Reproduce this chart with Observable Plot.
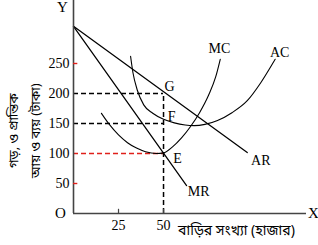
<!DOCTYPE html>
<html>
<head>
<meta charset="utf-8">
<script src="https://cdn.jsdelivr.net/npm/d3@7"></script>
<script src="https://cdn.jsdelivr.net/npm/@observablehq/plot@0.6"></script>
<style>
  html, body { margin: 0; padding: 0; background: #fff; }
  svg { display: block; }
</style>
</head>
<body>
<div id="chart"></div>
<script>
// Quantity of houses (thousand) and price/cost (Taka)
const arLine = [ {x: 0, y: 312}, {x: 96.5, y: 101.5} ];
const mrLine = [ {x: 0, y: 312}, {x: 62.8, y: 46.5} ];
const mcCurve = [
  {x: 15.5, y: 167}, {x: 20, y: 148}, {x: 25, y: 131}, {x: 30, y: 118},
  {x: 35, y: 109}, {x: 40, y: 103}, {x: 46, y: 100}, {x: 50, y: 101},
  {x: 55, y: 111}, {x: 60, y: 126}, {x: 65, y: 145}, {x: 70, y: 168},
  {x: 75, y: 197}, {x: 79, y: 228}, {x: 81.5, y: 257}
];
const acCurve = [
  {x: 31.7, y: 262}, {x: 33, y: 235}, {x: 35.5, y: 205}, {x: 39, y: 181},
  {x: 44, y: 167}, {x: 50, y: 157}, {x: 56, y: 151}, {x: 62, y: 147.5},
  {x: 67, y: 146.5}, {x: 73, y: 148.5}, {x: 80, y: 155}, {x: 88, y: 168},
  {x: 96.5, y: 188}, {x: 104, y: 218}, {x: 112, y: 257}
];
const xTicks = [25, 50];
const yTicks = [250, 200, 150, 100, 50];
const redTicks = [250, 50];
const guideBlack = [200, 150];
const guideRed = [100];
const qStar = 50;
const qStarTop = 200;
const pointG = {x: 50, y: 200, label: "G"};
const pointF = {x: 50, y: 150, label: "F"};
const pointE = {x: 50, y: 100, label: "E"};
const curveLabels = [
  {x: 81, y: 275, label: "MC"},
  {x: 114.5, y: 268, label: "AC"},
  {x: 104, y: 88, label: "AR"},
  {x: 69.5, y: 37, label: "MR"}
];
const yTitle = ["গড়, ও প্রান্তিক", "আয় ও ব্যয় (টাকা)"];
const xTitle = "বাড়ির সংখ্যা (হাজার)";
const xMax = 129.4, yMax = 355;

const serif = "Liberation Serif, Times New Roman, serif";
const bn = "Noto Sans Bengali, Noto Serif Bengali, Lohit Bengali, serif";
const T = {fill: "#000", fontFamily: serif};

const chart = Plot.plot({
  width: 318, height: 245,
  marginTop: 0, marginRight: 12, marginBottom: 32, marginLeft: 73,
  x: {domain: [0, xMax], axis: null},
  y: {domain: [0, yMax], axis: null},
  style: {background: "#fff"},
  marks: [
    // guides
    Plot.ruleY(guideBlack, {x1: 0, x2: qStar, y: d => d, stroke: "#000", strokeWidth: 1.3, strokeDasharray: "5,3"}),
    Plot.ruleY(guideRed, {x1: 0, x2: qStar, y: d => d, stroke: "#e0201b", strokeWidth: 1.3, strokeDasharray: "5,3"}),
    Plot.ruleX([qStar], {y1: 0, y2: qStarTop, stroke: "#000", strokeWidth: 1.5, strokeDasharray: "5,3"}),
    // curves
    Plot.line(arLine, {x: "x", y: "y", stroke: "#000", strokeWidth: 1.25}),
    Plot.line(mrLine, {x: "x", y: "y", stroke: "#000", strokeWidth: 1.25}),
    Plot.line(mcCurve, {x: "x", y: "y", curve: "monotone-x", stroke: "#000", strokeWidth: 1.1}),
    Plot.line(acCurve, {x: "x", y: "y", curve: "monotone-x", stroke: "#000", strokeWidth: 1.1}),
    // axes
    Plot.ruleX([0], {y1: 0, y2: yMax, stroke: "#444", strokeWidth: 1.6}),
    Plot.ruleY([0], {x1: 0, x2: xMax, stroke: "#444", strokeWidth: 1.6}),
    Plot.ruleX(xTicks, {x: d => d, y1: 0, y2: 7, stroke: "#444", strokeWidth: 1.2}),
    Plot.ruleY(redTicks, {x1: 0, x2: 2.4, y: d => d, stroke: "#e0201b", strokeWidth: 1.4}),
    Plot.text(yTicks, {...T, x: 0, y: d => d, text: d => String(d), dx: -4, textAnchor: "end", fontSize: 14}),
    Plot.text(xTicks, {...T, x: d => d, y: 0, text: d => String(d), dy: 12, fontSize: 14}),
    Plot.text(["O"], {...T, x: 0, y: 0, text: d => d, dx: -13, fontSize: 15}),
    Plot.text(["Y"], {...T, x: 0, y: yMax, text: d => d, dx: -11, dy: 7, fontSize: 15}),
    Plot.text(["X"], {...T, x: xMax, y: 0, text: d => d, dx: 7, fontSize: 15}),
    Plot.text([xTitle], {x: 90.5, y: 0, text: d => d, dy: 17, fontSize: 14, fill: "#000", fontFamily: bn}),
    // point labels
    Plot.text([pointG], {...T, x: "x", y: "y", text: "label", dx: 6, dy: -7, fontSize: 14}),
    Plot.text([pointF], {...T, x: "x", y: "y", text: "label", dx: 8, dy: -7, fontSize: 14}),
    Plot.text([pointE], {...T, x: "x", y: "y", text: "label", dx: 14, dy: 5, fontSize: 14}),
    // curve labels
    Plot.text(curveLabels, {...T, x: "x", y: "y", text: "label", fontSize: 14}),
    // y title
    Plot.text([yTitle[0]], {x: -33.3, y: 138, text: d => d, rotate: -90, fontSize: 13, fill: "#000", fontFamily: bn}),
    Plot.text([yTitle[1]], {x: -21.1, y: 138, text: d => d, rotate: -90, fontSize: 13, fill: "#000", fontFamily: bn})
  ]
});
document.getElementById("chart").appendChild(chart);
</script>
</body>
</html>
